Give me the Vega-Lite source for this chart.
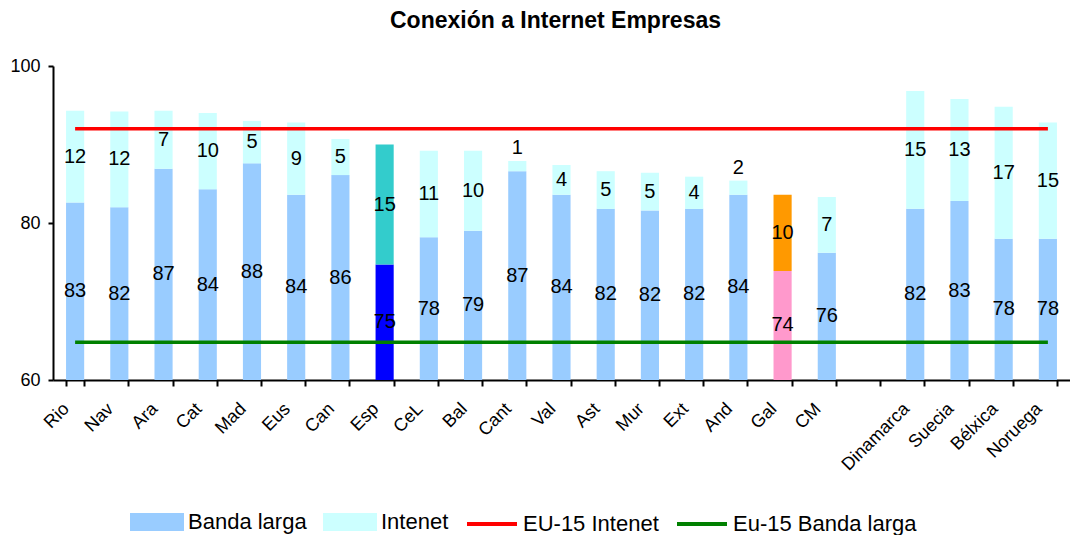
{
  "$schema": "https://vega.github.io/schema/vega-lite/v6.json",
  "width": 1017,
  "height": 314,
  "autosize": {"type": "none"},
  "padding": {"left": 53, "top": 66, "right": 0, "bottom": 155},
  "background": "white",
  "config": {"view": {"stroke": null}, "font": "Liberation Sans"},
  "title": {"text": "Conexión a Internet Empresas", "font": "Liberation Sans", "fontSize": 23, "fontWeight": "bold", "color": "black", "offset": 24, "dx": -6},
  "data": {"values": [
    {"cat": "Rio", "Banda larga": 82.6, "Intenet": 11.7, "EU-15 Intenet": 92.0, "Eu-15 Banda larga": 64.8},
    {"cat": "Nav", "Banda larga": 82.0, "Intenet": 12.2, "EU-15 Intenet": 92.0, "Eu-15 Banda larga": 64.8},
    {"cat": "Ara", "Banda larga": 86.9, "Intenet": 7.4, "EU-15 Intenet": 92.0, "Eu-15 Banda larga": 64.8},
    {"cat": "Cat", "Banda larga": 84.3, "Intenet": 9.7, "EU-15 Intenet": 92.0, "Eu-15 Banda larga": 64.8},
    {"cat": "Mad", "Banda larga": 87.6, "Intenet": 5.4, "EU-15 Intenet": 92.0, "Eu-15 Banda larga": 64.8},
    {"cat": "Eus", "Banda larga": 83.6, "Intenet": 9.2, "EU-15 Intenet": 92.0, "Eu-15 Banda larga": 64.8},
    {"cat": "Can", "Banda larga": 86.1, "Intenet": 4.6, "EU-15 Intenet": 92.0, "Eu-15 Banda larga": 64.8},
    {"cat": "Esp", "Banda larga": 74.7, "Intenet": 15.3, "EU-15 Intenet": 92.0, "Eu-15 Banda larga": 64.8},
    {"cat": "CeL", "Banda larga": 78.2, "Intenet": 11.0, "EU-15 Intenet": 92.0, "Eu-15 Banda larga": 64.8},
    {"cat": "Bal", "Banda larga": 79.0, "Intenet": 10.2, "EU-15 Intenet": 92.0, "Eu-15 Banda larga": 64.8},
    {"cat": "Cant", "Banda larga": 86.6, "Intenet": 1.3, "EU-15 Intenet": 92.0, "Eu-15 Banda larga": 64.8},
    {"cat": "Val", "Banda larga": 83.6, "Intenet": 3.8, "EU-15 Intenet": 92.0, "Eu-15 Banda larga": 64.8},
    {"cat": "Ast", "Banda larga": 81.8, "Intenet": 4.8, "EU-15 Intenet": 92.0, "Eu-15 Banda larga": 64.8},
    {"cat": "Mur", "Banda larga": 81.6, "Intenet": 4.8, "EU-15 Intenet": 92.0, "Eu-15 Banda larga": 64.8},
    {"cat": "Ext", "Banda larga": 81.8, "Intenet": 4.1, "EU-15 Intenet": 92.0, "Eu-15 Banda larga": 64.8},
    {"cat": "And", "Banda larga": 83.6, "Intenet": 1.8, "EU-15 Intenet": 92.0, "Eu-15 Banda larga": 64.8},
    {"cat": "Gal", "Banda larga": 73.9, "Intenet": 9.7, "EU-15 Intenet": 92.0, "Eu-15 Banda larga": 64.8},
    {"cat": "CM", "Banda larga": 76.2, "Intenet": 7.1, "EU-15 Intenet": 92.0, "Eu-15 Banda larga": 64.8},
    {"cat": " ", "Banda larga": null, "Intenet": null, "EU-15 Intenet": 92.0, "Eu-15 Banda larga": 64.8},
    {"cat": "Dinamarca", "Banda larga": 81.8, "Intenet": 15.0, "EU-15 Intenet": 92.0, "Eu-15 Banda larga": 64.8},
    {"cat": "Suecia", "Banda larga": 82.8, "Intenet": 13.0, "EU-15 Intenet": 92.0, "Eu-15 Banda larga": 64.8},
    {"cat": "Bélxica", "Banda larga": 78.0, "Intenet": 16.8, "EU-15 Intenet": 92.0, "Eu-15 Banda larga": 64.8},
    {"cat": "Noruega", "Banda larga": 78.0, "Intenet": 14.8, "EU-15 Intenet": 92.0, "Eu-15 Banda larga": 64.8}
  ]},
  "encoding": {
    "x": {
      "field": "cat", "type": "nominal", "title": null,
      "scale": {
        "domain": ["Rio", "Nav", "Ara", "Cat", "Mad", "Eus", "Can", "Esp", "CeL", "Bal", "Cant", "Val", "Ast", "Mur", "Ext", "And", "Gal", "CM", " ", "Dinamarca", "Suecia", "Bélxica", "Noruega"],
        "paddingInner": 0.59, "paddingOuter": 0.295
      },
      "axis": {
        "labelAngle": -45, "labelAlign": "right", "labelBaseline": "middle",
        "labelFont": "Liberation Sans", "labelFontSize": 18, "labelColor": "black",
        "labelPadding": 20, "labelOffset": -9,
        "tickBand": "extent", "tickSize": 6, "tickColor": "black", "tickWidth": 2,
        "domainColor": "black", "domainWidth": 2, "grid": false
      }
    }
  },
  "layer": [
    {
      "transform": [
        {"fold": ["Banda larga", "Intenet"], "as": ["serie", "valor"]},
        {"filter": "isValid(datum.valor)"},
        {"stack": "valor", "groupby": ["cat"], "sort": [{"field": "serie", "order": "ascending"}], "as": ["y0", "y1"]}
      ],
      "mark": {"type": "bar", "clip": true},
      "encoding": {
        "y": {
          "field": "y1", "type": "quantitative", "title": null,
          "scale": {"domain": [60, 100], "nice": false, "zero": false},
          "axis": {
            "values": [60, 80, 100], "grid": false,
            "labelFont": "Liberation Sans", "labelFontSize": 18, "labelColor": "black", "labelPadding": 8,
            "tickColor": "black", "tickWidth": 2, "tickSize": 5,
            "domainColor": "black", "domainWidth": 2
          }
        },
        "y2": {"field": "y0"},
        "color": {
          "condition": [
            {"test": "datum.cat === 'Esp' && datum.serie === 'Banda larga'", "value": "#0000FF"},
            {"test": "datum.cat === 'Esp' && datum.serie === 'Intenet'", "value": "#33CCCC"},
            {"test": "datum.cat === 'Gal' && datum.serie === 'Banda larga'", "value": "#FF99CC"},
            {"test": "datum.cat === 'Gal' && datum.serie === 'Intenet'", "value": "#FF9900"}
          ],
          "field": "serie", "type": "nominal",
          "scale": {
            "domain": ["Banda larga", "Intenet", "EU-15 Intenet", "Eu-15 Banda larga"],
            "range": ["#99CCFF", "#CCFFFF", "#FF0000", "#008000"]
          },
          "legend": {
            "title": null, "orient": "none", "legendX": 77, "legendY": 429,
            "direction": "horizontal", "columns": 4,
            "values": ["Banda larga", "Intenet", "EU-15 Intenet", "Eu-15 Banda larga"],
            "symbolSize": 2500, "labelFont": "Liberation Sans", "labelFontSize": 22, "labelColor": "black",
            "labelOffset": 4, "columnPadding": 10, "labelLimit": 400,
            "encode": {
              "symbols": {
                "update": {
                  "shape": {"signal": "(datum.value === 'EU-15 Intenet' || datum.value === 'Eu-15 Banda larga') ? 'M-1,0H1' : 'M-1,-0.28H1V0.28H-1Z'"},
                  "fill": {"signal": "(datum.value === 'EU-15 Intenet' || datum.value === 'Eu-15 Banda larga') ? 'transparent' : scale('color', datum.value)"},
                  "stroke": {"signal": "(datum.value === 'EU-15 Intenet' || datum.value === 'Eu-15 Banda larga') ? scale('color', datum.value) : 'transparent'"},
                  "strokeWidth": {"value": 4},
                  "opacity": {"value": 1},
                  "fillOpacity": {"value": 1},
                  "strokeOpacity": {"value": 1}
                }
              }
            }
          }
        }
      }
    },
    {
      "transform": [
        {"fold": ["EU-15 Intenet", "Eu-15 Banda larga"], "as": ["serie", "valor"]}
      ],
      "mark": {"type": "line", "strokeWidth": 3.5},
      "encoding": {
        "y": {"field": "valor", "type": "quantitative", "title": null},
        "color": {"field": "serie", "type": "nominal"}
      }
    },
    {
      "transform": [
        {"fold": ["Banda larga", "Intenet"], "as": ["serie", "valor"]},
        {"filter": "isValid(datum.valor)"},
        {"stack": "valor", "groupby": ["cat"], "sort": [{"field": "serie", "order": "ascending"}], "as": ["y0", "y1"]},
        {"calculate": "datum.serie === 'Intenet' && datum.valor < 2.5 ? datum.y1 + 1.6 : (max(datum.y0, 60) + datum.y1) / 2", "as": "mid"}
      ],
      "mark": {"type": "text", "font": "Liberation Sans", "fontSize": 20, "color": "black", "baseline": "middle"},
      "encoding": {
        "y": {"field": "mid", "type": "quantitative", "title": null},
        "text": {"field": "valor", "type": "quantitative", "format": ".0f"}
      }
    }
  ]
}
